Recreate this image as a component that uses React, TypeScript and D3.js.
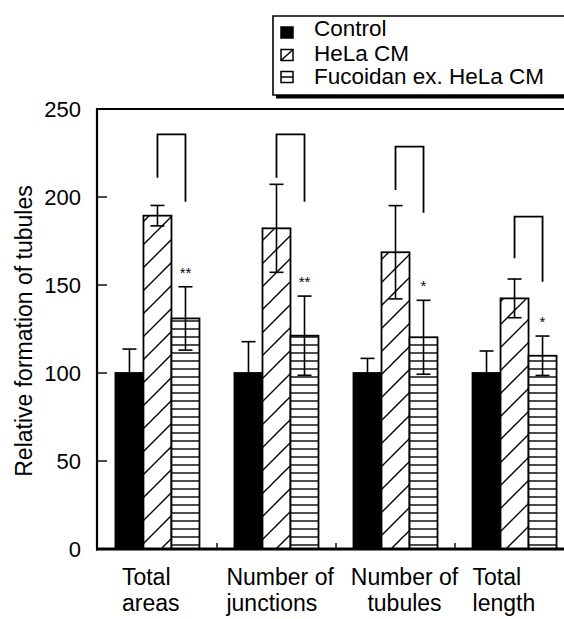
import React from "react";
import * as d3 from "d3";

const categories = ["Total areas", "Number of junctions", "Number of tubules", "Total length"];
const labelLines = [["Total", "areas"], ["Number of", "junctions"], ["Number of", "tubules"], ["Total", "length"]];
const series = ["Control", "HeLa CM", "Fucoidan ex. HeLa CM"];
const controlValues = [100, 100, 100, 100];
const controlErr = [13.6, 17.8, 8.3, 12.5];
const helaValues = [189.4, 182.2, 168.6, 142.4];
const helaErr = [5.8, 25, 26.5, 11];
const fucValues = [131, 121.2, 120.3, 109.8];
const fucErr = [18, 22.5, 21, 11.2];
const stars = ["**", "**", "*", "*"];
const bracketTop = [235.6, 235.6, 228.6, 188.8];
const bracketLeftEnd = [211, 211, 204, 165.2];
const bracketRightEnd = [197.3, 197.3, 191, 151.9];
const yTicks = [0, 50, 100, 150, 200, 250];

const W = 564;
const H = 619;
const FONT = "'Liberation Sans', Arial, Helvetica, sans-serif";

export default function App() {
  const y = d3.scaleLinear().domain([0, 250]).range([549, 109]);
  const x = d3.scaleBand<string>().domain(categories).range([97, 575]).paddingInner(0.294).paddingOuter(0.155);
  const sub = d3.scaleBand<string>().domain(series).range([0, x.bandwidth()]).padding(0);
  const bw = sub.bandwidth();
  const gap = x.step() - x.bandwidth();

  const allValues = [controlValues, helaValues, fucValues];
  const allErr = [controlErr, helaErr, fucErr];
  const fills = ["#000", "url(#diag)", "url(#horiz)"];

  const labelAnchor = ["start", "start", "middle", "start"];
  const labelDx = [6.5, -8, 9 + x.bandwidth() / 2, 0];

  const capW = 14;
  const legL = 273;
  const legT = 16;
  const legB = 95;

  return (
    <svg width={W} height={H} style={{ position: "absolute", left: 0, top: 0, background: "#fff" }} fontFamily={FONT}>
      <defs>
        <pattern id="diag" patternUnits="userSpaceOnUse" width={23} height={23} y={549}>
          <rect width={23} height={23} fill="#fff" />
          <path d="M0,23 L23,0 M-5,5 L5,-5 M18,28 L28,18" stroke="#000" strokeWidth={1.4} />
        </pattern>
        <pattern id="horiz" patternUnits="userSpaceOnUse" width={8} height={8} y={549}>
          <rect width={8} height={8} fill="#fff" />
          <line x1={0} x2={8} y1={4} y2={4} stroke="#000" strokeWidth={1.4} />
        </pattern>
      </defs>
      <rect width={W} height={H} fill="#fff" />

      {/* bars */}
      {categories.map((c, i) =>
        series.map((s, k) => {
          const bx = (x(c) ?? 0) + (sub(s) ?? 0);
          const v = allValues[k][i];
          return (
            <rect key={c + s} x={bx} y={y(v)} width={bw} height={y(0) - y(v)} fill={fills[k]} stroke="#000" strokeWidth={1.8} />
          );
        })
      )}

      {/* error bars */}
      {categories.map((c, i) =>
        series.map((s, k) => {
          const cx = (x(c) ?? 0) + (sub(s) ?? 0) + bw / 2;
          const v = allValues[k][i];
          const e = allErr[k][i];
          const yt = y(v + e);
          const yb = k === 0 ? y(v) : y(v - e);
          return (
            <g key={"e" + c + s} stroke="#000" strokeWidth={1.6}>
              <line x1={cx} x2={cx} y1={yt} y2={yb} />
              <line x1={cx - capW / 2} x2={cx + capW / 2} y1={yt} y2={yt} />
              {k !== 0 && <line x1={cx - capW / 2} x2={cx + capW / 2} y1={yb} y2={yb} />}
            </g>
          );
        })
      )}

      {/* significance brackets */}
      {categories.map((c, i) => {
        const lx = (x(c) ?? 0) + (sub(series[1]) ?? 0) + bw / 2;
        const rx = (x(c) ?? 0) + (sub(series[2]) ?? 0) + bw / 2;
        return (
          <path
            key={"b" + c}
            d={`M${lx},${y(bracketLeftEnd[i])} L${lx},${y(bracketTop[i])} L${rx},${y(bracketTop[i])} L${rx},${y(bracketRightEnd[i])}`}
            fill="none"
            stroke="#000"
            strokeWidth={1.8}
          />
        );
      })}

      {/* stars */}
      {categories.map((c, i) => {
        const cx = (x(c) ?? 0) + (sub(series[2]) ?? 0) + bw / 2;
        return (
          <text key={"s" + c} x={cx} y={y(fucValues[i] + fucErr[i]) - 9} textAnchor="middle" fontSize={15}>
            {stars[i]}
          </text>
        );
      })}

      {/* axes */}
      <line x1={97} x2={W} y1={y(250)} y2={y(250)} stroke="#000" strokeWidth={2} />
      <line x1={97} x2={97} y1={y(250) - 1} y2={y(0) + 1.5} stroke="#000" strokeWidth={2.2} />
      <line x1={96} x2={W} y1={y(0)} y2={y(0)} stroke="#000" strokeWidth={2.8} />
      {yTicks.map((t) => (
        <g key={"t" + t}>
          <line x1={97} x2={107} y1={y(t)} y2={y(t)} stroke="#000" strokeWidth={1.4} />
          <text x={81} y={y(t)} dy="0.36em" textAnchor="end" fontSize={22}>
            {t}
          </text>
        </g>
      ))}
      {categories.slice(1).map((c) => {
        const tx = (x(c) ?? 0) - gap / 2;
        return <line key={"gt" + c} x1={tx} x2={tx} y1={y(0)} y2={y(0) - 6} stroke="#000" strokeWidth={1.4} />;
      })}

      {/* x labels */}
      {categories.map((c, i) => (
        <text key={"l" + c} x={(x(c) ?? 0) + labelDx[i]} textAnchor={labelAnchor[i] as any} fontSize={23}>
          <tspan x={(x(c) ?? 0) + labelDx[i]} y={585}>{labelLines[i][0]}</tspan>
          <tspan x={(x(c) ?? 0) + labelDx[i]} y={611}>{labelLines[i][1]}</tspan>
        </text>
      ))}

      {/* y label */}
      <text transform="translate(32,331) rotate(-90)" textAnchor="middle" fontSize={23}>
        Relative formation of tubules
      </text>

      {/* legend (box runs off the right edge) */}
      <rect x={legL + 3} y={legB} width={W} height={3.5} fill="#000" />
      <rect x={legL} y={legT} width={W} height={legB - legT} fill="#fff" />
      <path d={`M${W + 2},${legT} L${legL},${legT} L${legL},${legB} L${W + 2},${legB}`} fill="none" stroke="#000" strokeWidth={1.6} />
      {series.map((s, k) => {
        const sy = [27, 49.5, 71.5][k];
        const ty = [36, 61, 84][k];
        return (
          <g key={"lg" + s}>
            <rect x={281} y={sy} width={12} height={11} fill={k === 0 ? "#000" : "#fff"} stroke="#000" strokeWidth={1.5} />
            {k === 1 && <line x1={281} y1={sy + 11} x2={293} y2={sy} stroke="#000" strokeWidth={1.5} />}
            {k === 2 && <line x1={281} y1={sy + 5.5} x2={293} y2={sy + 5.5} stroke="#000" strokeWidth={1.5} />}
            <text x={314} y={ty} fontSize={22.5}>
              {s}
            </text>
          </g>
        );
      })}
    </svg>
  );
}
